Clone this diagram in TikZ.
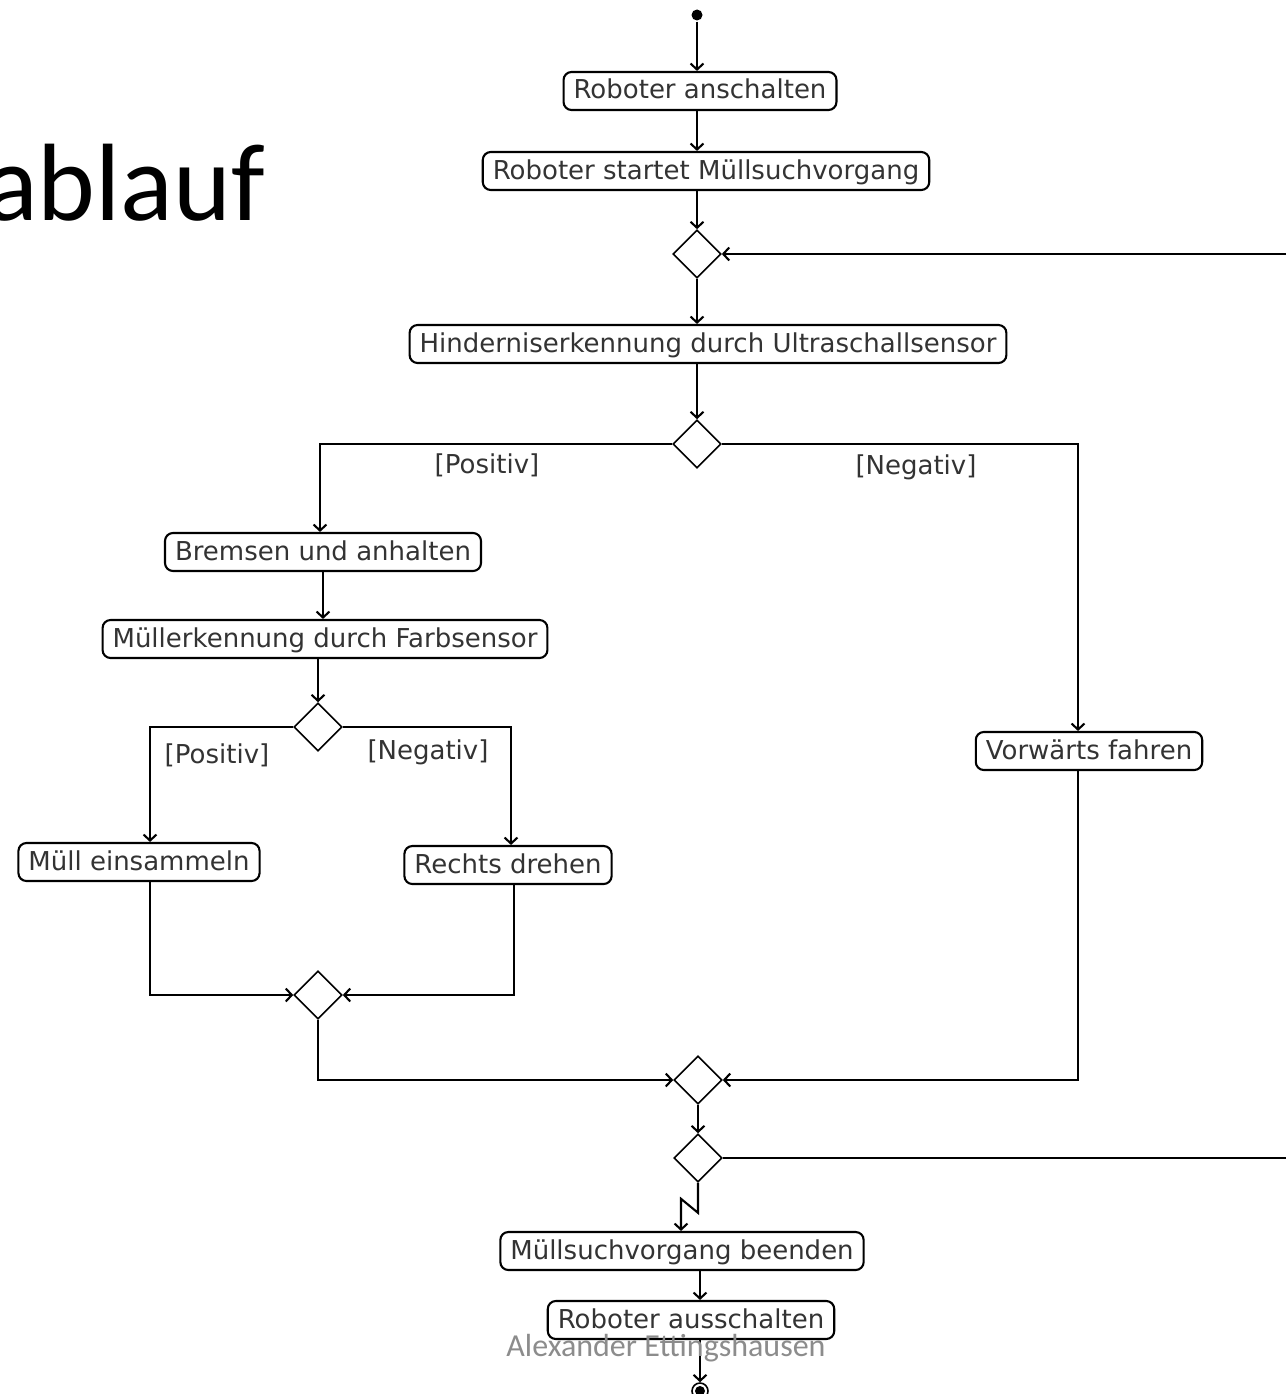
\documentclass[tikz,border=0pt]{standalone}
\usepackage{fontspec}
\setmainfont{DejaVu Sans}
\newfontfamily\slidefont{Carlito}
\usetikzlibrary{shapes.geometric,arrows.meta}

\begin{document}
\begin{tikzpicture}[x=1pt, y=-1pt, line width=2.1pt,
    every node/.style = {font=\fontsize{26}{30}\selectfont, text=black!80},
    actionNode/.style = {draw=black, fill=white, rounded corners=8pt, inner xsep=10pt, minimum height=38pt, text height=20pt, text depth=4pt},
    decisionNode/.style = {shape=diamond, draw=black, fill=white, line width=1.6pt, minimum width=48pt, minimum height=48pt, inner sep=0pt},
    flow/.style = {-{Straight Barb[length=6pt,width=13pt]}},
    ]
    \path[use as bounding box, fill=white] (0,0) rectangle (1286,1394);

    \node[font=\slidefont\fontsize{110}{120}\selectfont, text=black, anchor=base west, inner sep=0pt] (title) at (-16,220) {ablauf};

    \node[circle, fill=black, minimum size=11pt, inner sep=0pt] (start) at (697,15) {};
    \node[actionNode] (robotOn) at (700,91) {Roboter anschalten};
    \node[actionNode] (searchStart) at (706,171) {Roboter startet Müllsuchvorgang};
    \node[decisionNode] (loopJoin) at (697,254) {};
    \node[actionNode] (obstacleCheck) at (708,344) {Hinderniserkennung durch Ultraschallsensor};
    \node[decisionNode] (obstacleDec) at (697,444) {};
    \node (obstaclePos) at (487,465) {[Positiv]};
    \node (obstacleNeg) at (916,467) {[Negativ]};
    \node[actionNode] (brake) at (323,552) {Bremsen und anhalten};
    \node[actionNode] (colorCheck) at (325,639) {Müllerkennung durch Farbsensor};
    \node[decisionNode] (trashDec) at (318,727) {};
    \node (trashPos) at (217,755) {[Positiv]};
    \node (trashNeg) at (428,752) {[Negativ]};
    \node[actionNode] (collect) at (139,862) {Müll einsammeln};
    \node[actionNode] (turnRight) at (508,865) {Rechts drehen};
    \node[actionNode] (drive) at (1089,751) {Vorwärts fahren};
    \node[decisionNode] (trashMerge) at (318,995) {};
    \node[decisionNode] (mainMerge) at (698,1080) {};
    \node[decisionNode] (loopDec) at (698,1158) {};
    \node[actionNode] (searchEnd) at (682,1251) {Müllsuchvorgang beenden};
    \node[actionNode] (robotOff) at (691,1320) {Roboter ausschalten};
    \node[circle, draw=black, fill=white, line width=1.6pt, minimum size=16pt, inner sep=0pt] (finish) at (700,1391) {};
    \fill (finish) circle (5);
    \coordinate (loopIn) at (1286,254);
    \coordinate (loopOut) at (1286,1158);

    \draw[flow] (start) -- (start |- robotOn.north);
    \draw[flow] (robotOn.south -| start) -- (searchStart.north -| start);
    \draw[flow] (searchStart.south -| start) -- (loopJoin.north);
    \draw[flow] (loopIn) -- (loopJoin.east);
    \draw[flow] (loopJoin.south) -- (obstacleCheck.north -| loopJoin);
    \draw[flow] (obstacleCheck.south -| obstacleDec) -- (obstacleDec.north);
    \draw[flow] (obstacleDec.west) -| ([xshift=-3pt]brake.north);
    \draw[flow] (obstacleDec.east) -| ([xshift=-11pt]drive.north);
    \draw[flow] (brake.south) -- (brake.south |- colorCheck.north);
    \draw[flow] (colorCheck.south -| trashDec) -- (trashDec.north);
    \draw[flow] (trashDec.west) -| ([xshift=11pt]collect.north);
    \draw[flow] (trashDec.east) -| ([xshift=3pt]turnRight.north);
    \draw[flow] ([xshift=11pt]collect.south) |- (trashMerge.west);
    \draw[flow] ([xshift=6pt]turnRight.south) |- (trashMerge.east);
    \draw[flow] (trashMerge.south) |- (mainMerge.west);
    \draw[flow] ([xshift=-11pt]drive.south) |- (mainMerge.east);
    \draw[flow] (mainMerge.south) -- (loopDec.north);
    \draw (loopDec.east) -- (loopOut);
    \draw[flow] (loopDec.south) -- ++(0,30) -- ++(-17,-14) coordinate (bolt) -- (bolt |- searchEnd.north);
    \draw[flow] (searchEnd.south -| finish) -- (robotOff.north -| finish);
    \draw[flow] (robotOff.south -| finish) -- (finish);

    \node[font=\slidefont\fontsize{32}{36}\selectfont, text=black!45, anchor=base] (footer) at (666,1356) {Alexander Ettingshausen};
\end{tikzpicture}
\end{document}
